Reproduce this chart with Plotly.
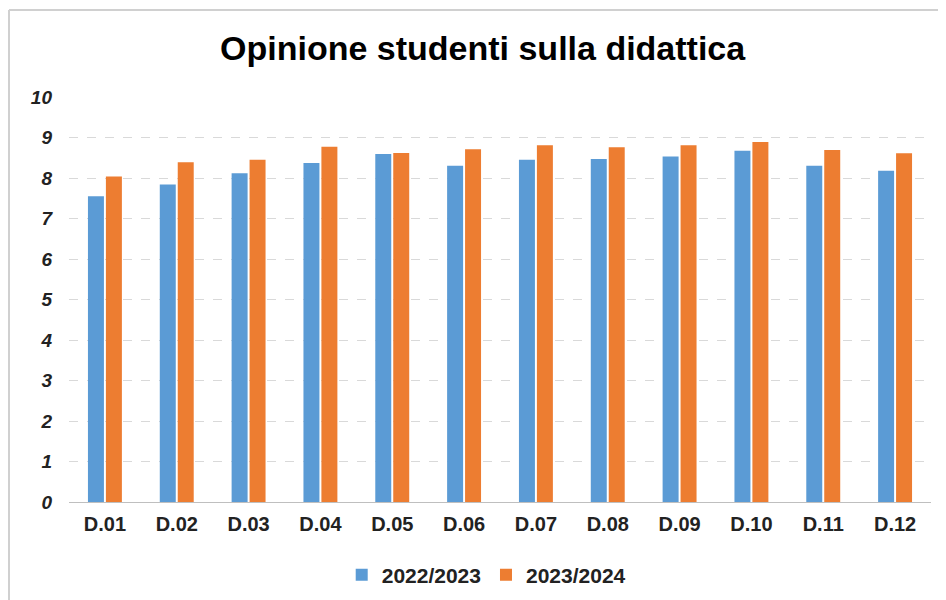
import plotly.graph_objects as go

categories = ["D.01", "D.02", "D.03", "D.04", "D.05", "D.06",
              "D.07", "D.08", "D.09", "D.10", "D.11", "D.12"]
values_2223 = [7.55, 7.84, 8.12, 8.37, 8.59, 8.30, 8.45, 8.47, 8.53, 8.67, 8.30, 8.18]
values_2324 = [8.04, 8.39, 8.45, 8.77, 8.62, 8.71, 8.81, 8.76, 8.81, 8.89, 8.69, 8.61]
y_ticks = list(range(0, 11))

FONT = "Liberation Sans, Arial, sans-serif"

fig = go.Figure()
fig.add_trace(go.Bar(x=categories, y=values_2223, name="2022/2023",
                     marker=dict(color="#5B9BD5", line=dict(width=0))))
fig.add_trace(go.Bar(x=categories, y=values_2324, name="2023/2024",
                     marker=dict(color="#ED7D31", line=dict(width=0))))

fig.update_layout(
    width=938, height=592,
    paper_bgcolor="white", plot_bgcolor="white",
    margin=dict(l=61, r=15, t=89, b=98, autoexpand=False),
    barmode="group", bargap=0.5, bargroupgap=0.11,
    title=dict(text="Opinione studenti sulla didattica",
               x=0.506, xanchor="center", y=0.932, yanchor="middle",
               font=dict(family=FONT, size=34, color="#000000", weight="bold")),
    legend=dict(orientation="h", x=0.484, xanchor="center",
                yref="container", y=0.042, yanchor="middle",
                font=dict(family=FONT, size=21, color="#222222", weight="bold"),
                itemwidth=30, traceorder="normal"),
    xaxis=dict(showgrid=False, showline=False, ticks="",
               ticklabelstandoff=8,
               tickfont=dict(family=FONT, size=20, color="#222222", weight="bold")),
    yaxis=dict(range=[0, 10], tickvals=y_ticks, showline=False, ticks="",
               showgrid=True, gridcolor="#D9D9D9", griddash="dash", gridwidth=1,
               zeroline=True, zerolinecolor="#BFBFBF", zerolinewidth=1,
               ticklabelstandoff=16,
               tickfont=dict(family=FONT, size=19, color="#222222",
                             weight="bold", style="italic")),
    shapes=[
        dict(type="line", xref="paper", yref="paper",
             x0=-0.0696, x1=1.02, y0=1.2148, y1=1.2148,
             line=dict(color="#D0D0D0", width=2)),
        dict(type="line", xref="paper", yref="paper",
             x0=-0.0696, x1=-0.0696, y0=1.2148, y1=-0.3,
             line=dict(color="#D0D0D0", width=2)),
    ],
)

fig.write_html("out.html")
